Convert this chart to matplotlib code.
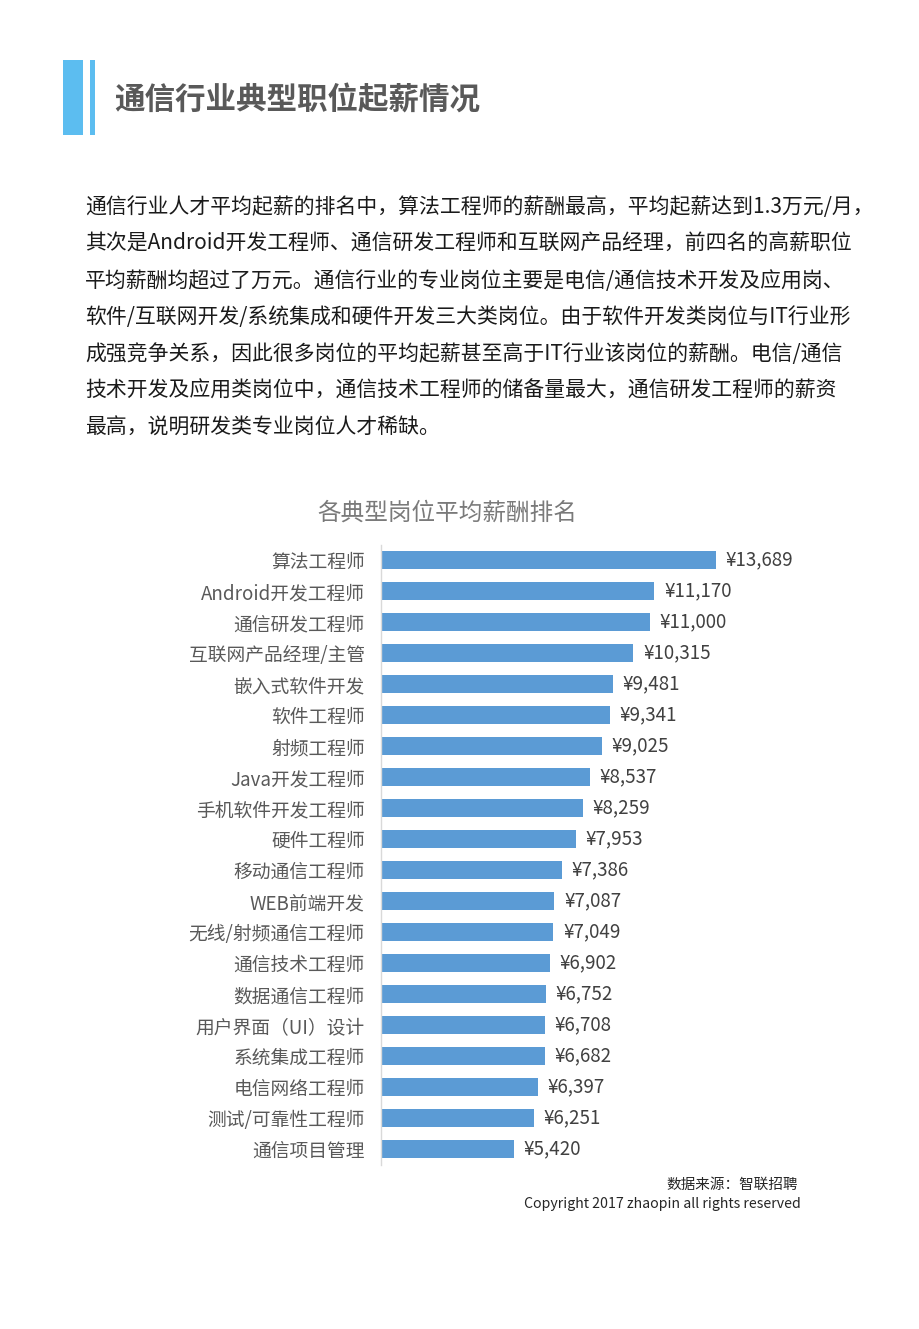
import matplotlib
matplotlib.use("Agg")
import matplotlib.pyplot as plt
from matplotlib.patches import Rectangle

plt.rcParams['font.family'] = ['Noto Sans CJK SC', 'DejaVu Sans']

categories = ["算法工程师", "Android开发工程师", "通信研发工程师", "互联网产品经理/主管",
              "嵌入式软件开发", "软件工程师", "射频工程师", "Java开发工程师",
              "手机软件开发工程师", "硬件工程师", "移动通信工程师", "WEB前端开发",
              "无线/射频通信工程师", "通信技术工程师", "数据通信工程师", "用户界面（UI）设计",
              "系统集成工程师", "电信网络工程师", "测试/可靠性工程师", "通信项目管理"]
salaries = [13689, 11170, 11000, 10315, 9481, 9341, 9025, 8537, 8259, 7953,
            7386, 7087, 7049, 6902, 6752, 6708, 6682, 6397, 6251, 5420]

page_title = "通信行业典型职位起薪情况"
chart_title = "各典型岗位平均薪酬排名"
paragraph_lines = [
    "通信行业人才平均起薪的排名中，算法工程师的薪酬最高，平均起薪达到1.3万元/月，",
    "其次是Android开发工程师、通信研发工程师和互联网产品经理，前四名的高薪职位",
    "平均薪酬均超过了万元。通信行业的专业岗位主要是电信/通信技术开发及应用岗、",
    "软件/互联网开发/系统集成和硬件开发三大类岗位。由于软件开发类岗位与IT行业形",
    "成强竞争关系，因此很多岗位的平均起薪甚至高于IT行业该岗位的薪酬。电信/通信",
    "技术开发及应用类岗位中，通信技术工程师的储备量最大，通信研发工程师的薪资",
    "最高，说明研发类专业岗位人才稀缺。",
]
source_text = "数据来源：智联招聘"
copyright_text = "Copyright 2017 zhaopin all rights reserved"

W, H = 920, 1329
fig = plt.figure(figsize=(W / 100, H / 100), dpi=100)
fig.patch.set_facecolor("white")

def fx(px):
    return px / W

def fy(py):
    return 1 - py / H

# Header decoration bars
fig.patches.append(Rectangle((fx(63), fy(135)), fx(20), (135 - 60) / H,
                             transform=fig.transFigure, facecolor="#5cbdf0", edgecolor="none"))
fig.patches.append(Rectangle((fx(90), fy(135)), fx(5), (135 - 60) / H,
                             transform=fig.transFigure, facecolor="#5cbdf0", edgecolor="none"))
fig.text(fx(114), fy(101), page_title, fontsize=22, fontweight="bold", color="#595959",
         ha="left", va="center")

# Paragraph
for i, line in enumerate(paragraph_lines):
    fig.text(fx(85), fy(207 + i * 36.8), line, fontsize=15, color="#1a1a1a",
             ha="left", va="center")

# Chart title
fig.text(fx(447), fy(513), chart_title, fontsize=17, color="#7a7a7a",
         ha="center", va="center")

# Bar chart axes
ax_left, ax_right = 381, 800
ax_top, ax_bottom = 544.5, 1164.5
ax = fig.add_axes([fx(ax_left), fy(ax_bottom), (ax_right - ax_left) / W, (ax_bottom - ax_top) / H])
ypos = list(range(len(categories)))
ax.barh(ypos, salaries, height=0.57, color="#5b9bd5", edgecolor="none")
ax.set_xlim(0, (ax_right - ax_left) / 0.02447)
ax.set_ylim(len(categories) - 0.5, -0.5)
ax.set_yticks(ypos)
ax.set_yticklabels(categories, fontsize=13.5, color="#595959")
ax.tick_params(axis="y", length=0, pad=11.7)
for lbl in ax.get_yticklabels():
    lbl.set_va("center_baseline")
ax.set_xticks([])
for s in ["top", "right", "bottom"]:
    ax.spines[s].set_visible(False)
ax.spines["left"].set_color("#d9d9d9")
ax.spines["left"].set_linewidth(1)
ax.set_facecolor("none")
for y, v in zip(ypos, salaries):
    ax.annotate(f"¥{v:,}", xy=(v, y), xytext=(7, 0), textcoords="offset points",
                ha="left", va="center", fontsize=13.5, color="#404040")

# Footnotes
fig.text(fx(798), fy(1185), source_text, fontsize=10.5, color="#262626", ha="right", va="center")
fig.text(fx(801), fy(1204), copyright_text, fontsize=10.2, color="#262626", ha="right", va="center")

fig.savefig("out.png", dpi=100, facecolor="white")
